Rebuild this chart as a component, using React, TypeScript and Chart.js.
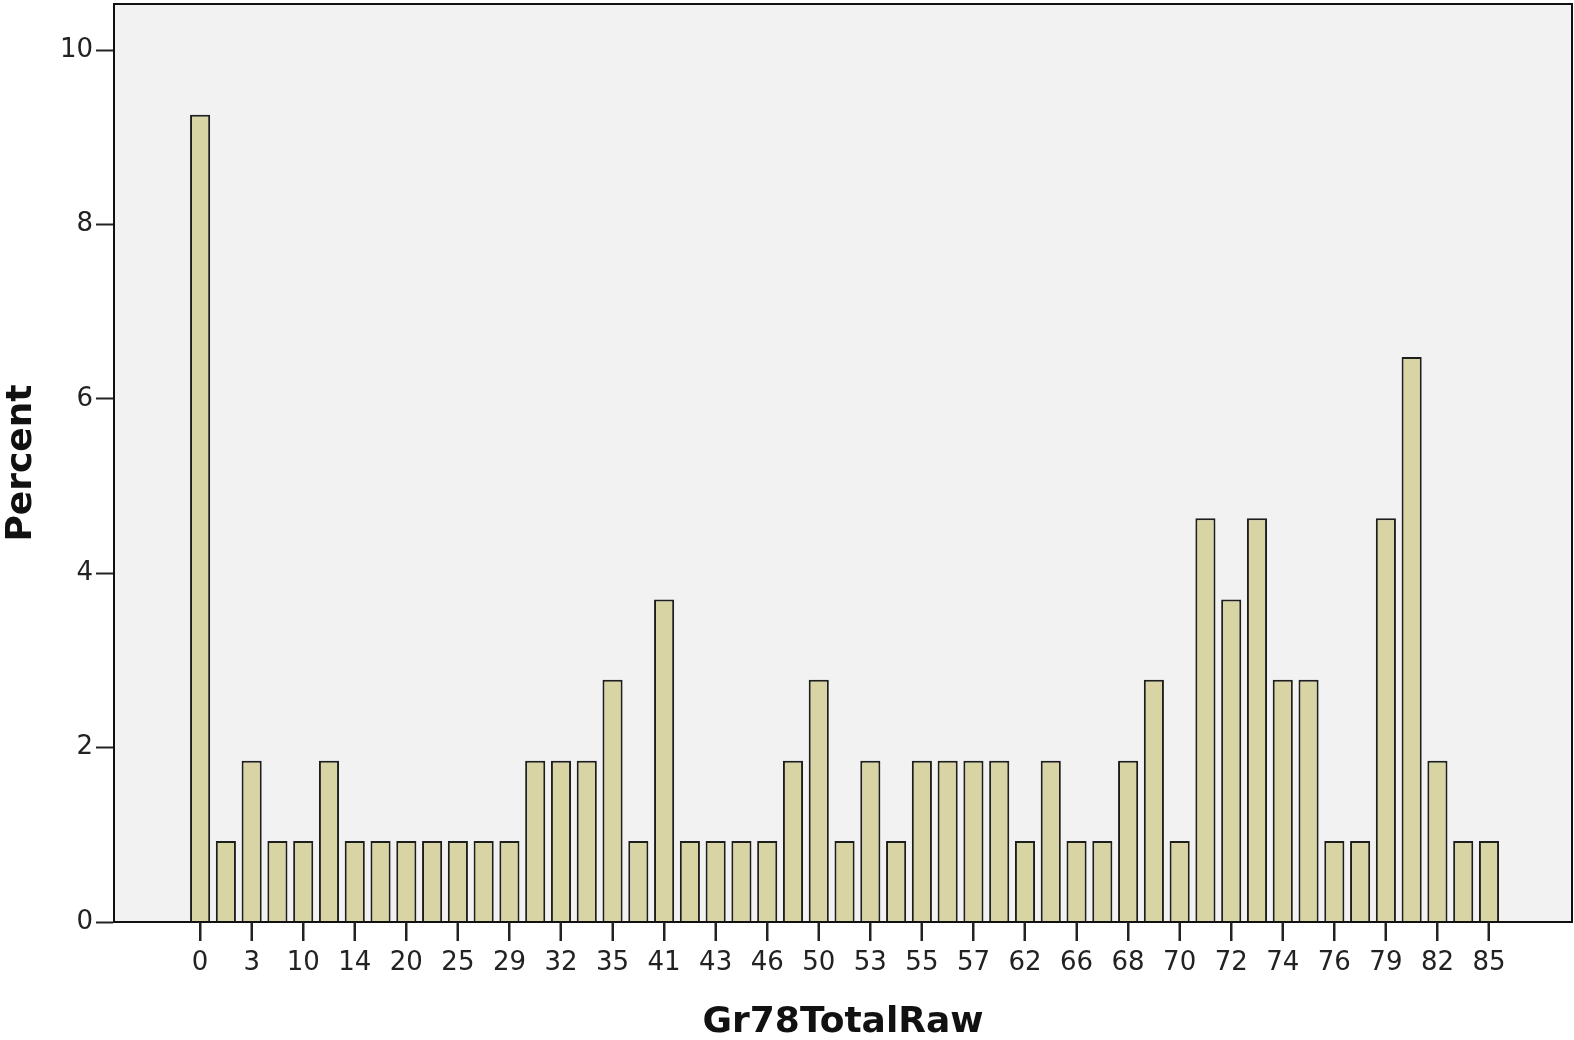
import React, { useEffect, useRef } from "react";
import { Chart, registerables } from "chart.js";

Chart.register(...registerables);

// Category labels (only every other one is printed on the axis; the in-between ones are estimates)
const categories: string[] = [
  "0", "1", "3", "7", "10", "12", "14", "17", "20", "22",
  "25", "27", "29", "31", "32", "34", "35", "38", "41", "42",
  "43", "45", "46", "48", "50", "52", "53", "54", "55", "56",
  "57", "60", "62", "64", "66", "67", "68", "69", "70", "71",
  "72", "73", "74", "75", "76", "78", "79", "80", "82", "83",
  "85",
];

// Percent of cases per category
const percents: number[] = [
  9.26, 0.93, 1.85, 0.93, 0.93, 1.85, 0.93, 0.93, 0.93, 0.93,
  0.93, 0.93, 0.93, 1.85, 1.85, 1.85, 2.78, 0.93, 3.7, 0.93,
  0.93, 0.93, 0.93, 1.85, 2.78, 0.93, 1.85, 0.93, 1.85, 1.85,
  1.85, 1.85, 0.93, 1.85, 0.93, 0.93, 1.85, 2.78, 0.93, 4.63,
  3.7, 4.63, 2.78, 2.78, 0.93, 0.93, 4.63, 6.48, 1.85, 0.93,
  0.93,
];

const yTicks: number[] = [0, 2, 4, 6, 8, 10];

const FONT = "'DejaVu Sans', 'Liberation Sans', sans-serif";
const TICK_LEN = 19;

export default function App() {
  const ref = useRef<HTMLCanvasElement | null>(null);

  useEffect(() => {
    if (!ref.current) return;
    const bgPlugin = {
      id: "plotBg",
      beforeDraw(chart: any) {
        const { ctx, chartArea: a } = chart;
        ctx.save();
        ctx.fillStyle = "#f2f2f2";
        ctx.fillRect(a.left, a.top, a.right - a.left, a.bottom - a.top);
        ctx.restore();
      },
      afterDraw(chart: any) {
        const { ctx, chartArea: a } = chart;
        ctx.save();
        ctx.strokeStyle = "#111";
        ctx.lineWidth = 2;
        ctx.strokeRect(a.left, a.top, a.right - a.left, a.bottom - a.top);
        // x tick marks at each labelled category, positioned by the x scale
        const xs = chart.scales.x;
        ctx.strokeStyle = "#222";
        ctx.lineWidth = 2;
        ctx.beginPath();
        for (const t of xs.ticks) {
          const px = Math.round(xs.getPixelForValue(t.value));
          ctx.moveTo(px, a.bottom);
          ctx.lineTo(px, a.bottom + TICK_LEN);
        }
        ctx.stroke();
        ctx.restore();
      },
    };

    const chart = new Chart(ref.current, {
      type: "bar",
      data: {
        datasets: [
          {
            data: percents.map((v, i) => ({ x: i, y: v })),
            backgroundColor: "#d8d4a3",
            borderColor: "#1e1e1e",
            borderWidth: 2,
            barPercentage: 0.78,
            categoryPercentage: 1,
          },
        ],
      },
      options: {
        responsive: false,
        animation: false,
        layout: { padding: { top: 4, right: 2, left: 0, bottom: 0 } },
        plugins: {
          legend: { display: false },
          tooltip: { enabled: false },
        },
        scales: {
          x: {
            type: "linear",
            offset: false,
            min: -3.34,
            max: 53.22,
            afterBuildTicks(scale: any) {
              const t: any[] = [];
              for (let i = 0; i < categories.length; i += 2) t.push({ value: i });
              scale.ticks = t;
            },
            afterFit(scale: any) {
              scale.height = 118;
              scale.paddingLeft = 0;
              scale.paddingRight = 0;
            },
            ticks: {
              autoSkip: false,
              maxRotation: 0,
              minRotation: 0,
              padding: 7,
              color: "#222",
              font: { family: FONT, size: 26 },
              callback: (v: any) => categories[Math.round(Number(v))] ?? "",
            },
            grid: {
              offset: false,
              drawOnChartArea: false,
              drawTicks: true,
              tickLength: TICK_LEN,
              tickWidth: 2,
              tickColor: "#222",
            },
            border: { display: true, color: "#111", width: 2 },
            title: {
              display: true,
              text: "Gr78TotalRaw",
              color: "#111",
              font: { family: FONT, size: 36, weight: "bold" },
              padding: { top: 0, bottom: -4 },
            },
          },
          y: {
            min: 0,
            max: 10.53,
            afterBuildTicks(scale: any) {
              scale.ticks = yTicks.map((v) => ({ value: v }));
            },
            afterFit(scale: any) {
              scale.width = 114;
              scale.paddingTop = 0;
              scale.paddingBottom = 0;
            },
            ticks: {
              padding: 3,
              color: "#222",
              font: { family: FONT, size: 26 },
            },
            grid: {
              drawOnChartArea: false,
              drawTicks: true,
              tickLength: 18,
              tickWidth: 2,
              tickColor: "#222",
            },
            border: { display: true, color: "#111", width: 2 },
            title: {
              display: true,
              text: "Percent",
              color: "#111",
              font: { family: FONT, size: 36, weight: "bold" },
              padding: { top: 0, bottom: 0 },
            },
          },
        },
      },
      plugins: [bgPlugin],
    } as any);

    return () => chart.destroy();
  }, []);

  return (
    <div style={{ position: "fixed", left: 0, top: 0, width: 1574, height: 1040, background: "#fff" }}>
      <canvas ref={ref} width={1574} height={1040} style={{ display: "block" }} />
    </div>
  );
}
